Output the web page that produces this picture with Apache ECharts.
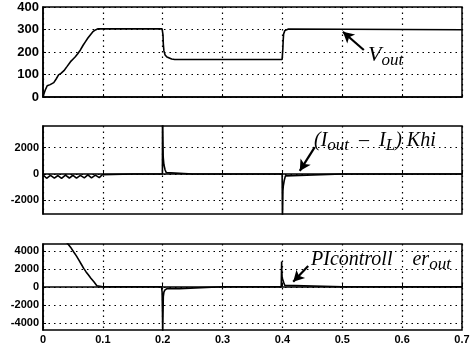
<!DOCTYPE html>
<html>
<head>
<meta charset="utf-8">
<script src="https://cdn.jsdelivr.net/npm/echarts@6/dist/echarts.min.js"></script>
<style>html,body{margin:0;padding:0;background:#fff}#c{width:474px;height:351px}</style>
</head>
<body>
<div id="c"></div>
<script>
// ---- data (time in s) ----
const vTime = [0,0.002,0.004,0.007,0.012,0.018,0.022,0.026,0.030,0.035,0.040,0.046,0.050,0.054,0.058,0.0625,0.067,0.071,0.075,0.079,0.083,0.0875,0.092,0.096,0.1,0.15,0.199,0.2,0.2005,0.201,0.202,0.204,0.207,0.210,0.215,0.22,0.3,0.3995,0.4,0.4007,0.4013,0.402,0.404,0.406,0.41,0.5,0.6,0.7];
const vOut  = [0,18,32,50,55,64,80,98,105,117,135,157,168,179,192,209,230,246,262,276,289,298,303,303,303,303,303,300,275,235,205,187,178,172,169,167,167,167,175,215,253,280,295,301,302,301,300,299];

const iTime = [0,0.006,0.0125,0.019,0.025,0.031,0.0375,0.044,0.05,0.056,0.0625,0.069,0.075,0.081,0.0875,0.094,0.099,0.1,0.15,0.1995,0.1997,0.2003,0.2008,0.2012,0.202,0.204,0.206,0.208,0.25,0.3,0.3995,0.4000,0.4004,0.4008,0.4015,0.403,0.405,0.407,0.5,0.6,0.7];
const iErr  = [-60,-330,-110,-320,-120,-330,-90,-310,-100,-320,-110,-300,-80,-300,-90,-280,-60,0,0,0,5000,5000,1300,1100,700,300,100,0,0,0,0,-3300,-2600,-1300,-900,-500,-150,0,0,0,0];

const pTime = [0,0.02,0.04,0.046,0.051,0.056,0.06,0.064,0.068,0.072,0.076,0.080,0.085,0.09,0.093,0.1,0.15,0.198,0.199,0.1995,0.2,0.2005,0.201,0.202,0.2035,0.205,0.207,0.228,0.229,0.3,0.398,0.3987,0.399,0.3995,0.4005,0.402,0.404,0.407,0.5,0.6,0.7];
const pOut  = [9000,7200,4900,4400,3890,3400,2960,2500,2040,1650,1300,950,560,110,0,0,0,0,-600,-2500,-5200,-3000,-1100,-600,-370,-250,-200,-200,0,0,0,2800,1800,1000,900,500,150,0,0,0,0];

const xTicks = [0,0.1,0.2,0.3,0.4,0.5,0.6,0.7];
const vTicks = [0,100,200,300,400];
const iTicks = [-2000,0,2000];
const pTicks = [-4000,-2000,0,2000,4000];

function pairs(t, v){ return t.map((x,i)=>[x, v[i]]); }

const chart = echarts.init(document.getElementById('c'), null, {renderer:'canvas'});
const grids = [
  {left:43, right:12, top:7, height:90},
  {left:43, right:12, top:126, height:88},
  {left:43, right:12, top:244, height:86}
].map(g=>Object.assign(g,{show:true, borderColor:'#000', borderWidth:1.5, backgroundColor:'#fff', containLabel:false}));

const splitDot = {show:true, lineStyle:{color:'#000', type:[1.5,4], width:1.2}};
function xAxis(i, showLabel){
  return {type:'value', gridIndex:i, min:0, max:0.7, interval:0.1,
    axisLine:{show:true, lineStyle:{color:'#000', width:1.5}},
    axisTick:{show:true, inside:true, length:3, lineStyle:{color:'#000'}},
    axisLabel:{show:showLabel, color:'#000', fontFamily:'Liberation Sans, Arial', fontWeight:'bold', fontSize:11, margin:4,
      formatter:v=>String(Math.round(v*10)/10)},
    splitLine:splitDot};
}
function yAxis(i, min, max, ticks, fs){
  return {type:'value', gridIndex:i, min:min, max:max,
    axisLine:{show:true, lineStyle:{color:'#000', width:1.5}},
    axisTick:{show:true, inside:true, length:3, lineStyle:{color:'#000'}, customValues:ticks},
    axisLabel:{show:true, color:'#000', fontFamily:'Liberation Sans, Arial', fontWeight:'bold', fontSize:fs, margin:4, customValues:ticks,
      formatter:v=>String(v)},
    splitLine:splitDot};
}
const lineStyle = {color:'#000', width:1.6};
const arrowStyle = {color:'#000', width:2.2, type:'solid'};
function arrow(a, b){
  return {silent:true, symbol:['none','arrow'], symbolSize:[9,11], animation:false,
    label:{show:false}, lineStyle:arrowStyle,
    data:[[{coord:a},{coord:b}]]};
}
const serif = 'Liberation Serif, Times New Roman';
const option = {
  animation:false,
  backgroundColor:'#fff',
  grid:grids,
  xAxis:[xAxis(0,false), xAxis(1,false), xAxis(2,true)],
  yAxis:[yAxis(0,0,400,vTicks,13), yAxis(1,-3050,3650,iTicks,11), yAxis(2,-4800,4750,pTicks,11)],
  series:[
    {type:'line', xAxisIndex:0, yAxisIndex:0, data:pairs(vTime,vOut), showSymbol:false, lineStyle:lineStyle, clip:true,
      markLine:arrow([0.536,209],[0.501,290])},
    {type:'line', xAxisIndex:1, yAxisIndex:1, data:pairs(iTime,iErr), showSymbol:false, lineStyle:lineStyle, clip:true,
      markLine:arrow([0.454,2045],[0.429,227])},
    {type:'line', xAxisIndex:2, yAxisIndex:2, data:pairs(pTime,pOut), showSymbol:false, lineStyle:lineStyle, clip:true,
      markLine:arrow([0.443,2300],[0.418,560])}
  ],
  graphic:[
    {type:'text', left:368, top:44, style:{
      text:'{m|V}{s|out}',
      rich:{m:{fontFamily:serif, fontStyle:'italic', fontSize:22, fill:'#000'},
            s:{fontFamily:serif, fontStyle:'italic', fontSize:17, fill:'#000', padding:[12,0,0,0]}}}},
    {type:'text', left:314, top:131, style:{
      text:'{m|(I}{s|out}{m|  –  I}{s|L}{m|) Khi}',
      rich:{m:{fontFamily:serif, fontStyle:'italic', fontSize:20, fill:'#000'},
            s:{fontFamily:serif, fontStyle:'italic', fontSize:17, fill:'#000', padding:[9,0,0,0]}}}},
    {type:'text', left:311, top:250, style:{
      text:'{m|PIcontroll    er}{s|out}',
      rich:{m:{fontFamily:serif, fontStyle:'italic', fontSize:20, fill:'#000'},
            s:{fontFamily:serif, fontStyle:'italic', fontSize:17, fill:'#000', padding:[10,0,0,0]}}}}
  ]
};
chart.setOption(option);
</script>
</body>
</html>
